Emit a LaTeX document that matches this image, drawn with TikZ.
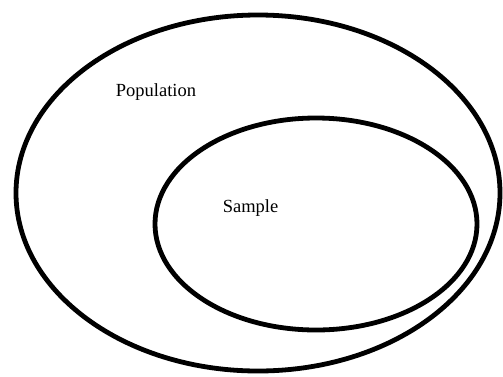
\documentclass[tikz,border=0pt]{standalone}
\usepackage{fontspec}
\setmainfont{Liberation Serif}

\begin{document}
\begin{tikzpicture}[x=1pt, y=-1pt]
  \tikzset{ring/.style={draw, line width=4.8pt},
    lbl/.style={anchor=base, font=\fontsize{18.5}{22}\selectfont}}
  \useasboundingbox (0,0) rectangle (503,376);
  \draw[ring] (258,193) ellipse [x radius=242, y radius=178];
  \draw[ring] (316,224) ellipse [x radius=161, y radius=106];
  \node[lbl] (pop) at (156,96) {Population};
  \node[lbl] (smp) at (250.5,212) {Sample};
\end{tikzpicture}
\end{document}
